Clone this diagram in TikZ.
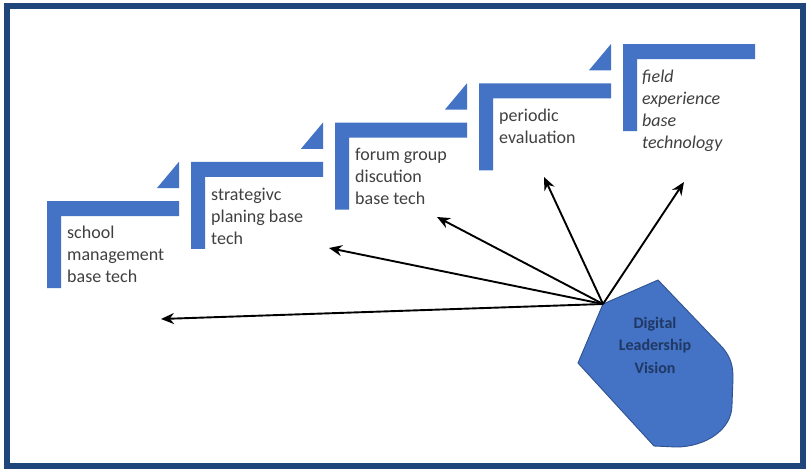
\documentclass[tikz,border=0pt]{standalone}
\usepackage{fontspec}
\setmainfont{Carlito}
\usetikzlibrary{arrows.meta}
\definecolor{stepblue}{RGB}{68,114,196}
\definecolor{framenavy}{RGB}{31,70,122}
\definecolor{labelgray}{RGB}{64,64,64}
\definecolor{visionnavy}{RGB}{32,56,100}
\definecolor{visionedge}{RGB}{47,82,143}
\begin{document}
\begin{tikzpicture}[x=1pt,y=-1pt,
  stepbar/.style={fill=stepblue},
  steplabel/.style={anchor=base west, inner sep=0pt, align=left, text=labelgray,
    font=\fontsize{18}{22}\selectfont},
  visionlabel/.style={anchor=base, inner sep=0pt, align=center, text=visionnavy,
    font=\bfseries\fontsize{16}{22.5}\selectfont},
  ray/.style={line width=1.9pt, -{Stealth[length=13pt,width=11pt]}}]
\useasboundingbox (0,0) rectangle (806,469);
\fill[white] (0,0) rectangle (806,469);
\draw[framenavy, line width=6pt] (7,6) rectangle (803,466);

% staircase of L-shaped steps
\foreach \i in {0,...,4}{
  \pgfmathsetmacro{\sx}{47+144*\i}
  \pgfmathsetmacro{\sy}{201-39.25*\i}
  \fill[stepbar] (\sx,\sy) -- ++(132,0) -- ++(0,15) -- ++(-118,0)
    -- ++(0,72) -- ++(-14,0) -- cycle;
}
% small triangles leading up to the next step
\foreach \i in {0,...,3}{
  \pgfmathsetmacro{\sx}{47+144*\i}
  \pgfmathsetmacro{\sy}{201-39.25*\i}
  \fill[stepbar] (\sx+110,\sy-13) -- (\sx+132,\sy-13) -- (\sx+132,\sy-39.25) -- cycle;
}

% labels are placed by the baseline of their last line
\node[steplabel] (s1) at (67,282) {school\\management\\base tech};
\node[steplabel] (s2) at (211,244) {strategivc\\planing base\\tech};
\node[steplabel] (s3) at (355,204) {forum group\\discution\\base tech};
\node[steplabel] (s4) at (499,143) {periodic\\evaluation};
\node[steplabel, font=\itshape\fontsize{18}{22}\selectfont] (s5) at (642,148)
  {field\\experience\\base\\technology};

% vision shape
\draw[fill=stepblue, draw=visionedge, line width=0.9pt]
  (603,304) -- (658,280) -- (723,348)
  .. controls (731,358) and (733,366) .. (733,378)
  -- (732,405) .. controls (732,430) and (705,447) .. (676,447)
  -- (654,446) -- (578,363) -- cycle;
\node[visionlabel] (vision) at (655,373) {Digital\\Leadership\\Vision};

\coordinate (hub) at (603,304);
\coordinate (e1) at (161,319);
\coordinate (e2) at (329,248);
\coordinate (e3) at (437,217);
\coordinate (e4) at (544,177);
\coordinate (e5) at (684,182);
\foreach \e in {e1,e2,e3,e4,e5}{
  \draw[ray] (hub) -- (\e);
}
\end{tikzpicture}
\end{document}
